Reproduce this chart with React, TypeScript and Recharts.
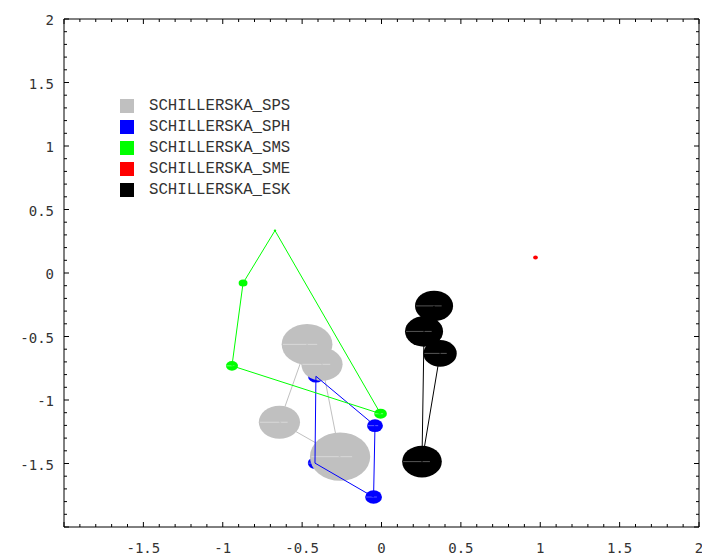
import React from "react";
import { ScatterChart, Scatter, XAxis, YAxis, Legend } from "recharts";

// values (data units, r = disk radius)
const spsX = [-0.469, -0.375, -0.643, -0.261];
const spsY = [-0.562, -0.719, -1.175, -1.446];
const spsR = [0.16, 0.13, 0.13, 0.19];

const sphX = [-0.413, -0.041, -0.05, -0.419];
const sphY = [-0.813, -1.202, -1.764, -1.497];
const sphR = [0.05, 0.05, 0.053, 0.045];

const smsX = [-0.671, -0.872, -0.942, -0.006];
const smsY = [0.334, -0.079, -0.731, -1.108];
const smsR = [0.008, 0.028, 0.038, 0.04];

const smeX = [0.97];
const smeY = [0.122];
const smeR = [0.015];

const eskX = [0.331, 0.268, 0.369, 0.255];
const eskY = [-0.259, -0.46, -0.633, -1.485];
const eskR = [0.12, 0.12, 0.105, 0.125];

// hull order (indices into the arrays above)
const spsHull = [0, 1, 3, 2, 0];
const sphHull = [0, 1, 2, 3, 0];
const smsHull = [0, 3, 2, 1, 0];
const eskHull = [0, 2, 3, 1, 0];

const labelTicks = [-1.5, -1, -0.5, 0, 0.5, 1, 1.5, 2];
const allTicks = Array.from({ length: 41 }, (_, i) => Math.round((-2 + i * 0.1) * 10) / 10);

const W = 702;
const H = 556;
const M = { left: 64, top: 19, right: 3, bottom: 29 };
const PX_X = (W - M.left - M.right) / 4;
const PX_Y = (H - M.top - M.bottom) / 4;

const toPts = (xs: number[], ys: number[], rs: number[]) =>
  xs.map((x, i) => ({ x, y: ys[i], r: rs[i] }));
const toHull = (xs: number[], ys: number[], order: number[]) =>
  order.map((i) => ({ x: xs[i], y: ys[i] }));

const series = [
  { name: "SCHILLERSKA_SPS", color: "#c0c0c0" },
  { name: "SCHILLERSKA_SPH", color: "#0000ff" },
  { name: "SCHILLERSKA_SMS", color: "#00ff00" },
  { name: "SCHILLERSKA_SME", color: "#ff0000" },
  { name: "SCHILLERSKA_ESK", color: "#000000" },
];

const isMajor = (v: number) => Math.abs(v * 2 - Math.round(v * 2)) < 1e-6;
const hasLabel = (v: number) => labelTicks.some((t) => Math.abs(t - v) < 1e-6);
const tickFont = { fontFamily: "DejaVu Sans Mono", fontSize: 14, fill: "#333" };

const BottomTick = (p: any) => {
  const v = p.payload.value;
  return (
    <g>
      <line x1={p.x} x2={p.x} y1={p.y} y2={p.y - (isMajor(v) ? 5 : 3)} stroke="#000" />
      {hasLabel(v) && (
        <text x={p.x} y={p.y + 26} textAnchor="middle" {...tickFont}>
          {String(v)}
        </text>
      )}
    </g>
  );
};
const TopTick = (p: any) => {
  const v = p.payload.value;
  return <line x1={p.x} x2={p.x} y1={p.y} y2={p.y + (isMajor(v) ? 5 : 3)} stroke="#000" />;
};
const LeftTick = (p: any) => {
  const v = p.payload.value;
  return (
    <g>
      <line x1={p.x} x2={p.x + (isMajor(v) ? 5 : 3)} y1={p.y} y2={p.y} stroke="#000" />
      {hasLabel(v) && (
        <text x={p.x - 10} y={p.y + 6} textAnchor="end" {...tickFont}>
          {String(v)}
        </text>
      )}
    </g>
  );
};
const RightTick = (p: any) => {
  const v = p.payload.value;
  return <line x1={p.x} x2={p.x - (isMajor(v) ? 5 : 3)} y1={p.y} y2={p.y} stroke="#000" />;
};

const disk = (color: string, seam: string) => (p: any) => {
  const rx = Math.max(p.payload.r * PX_X, 1);
  const ry = Math.max(p.payload.r * PX_Y, 1);
  return (
    <g>
      <ellipse cx={p.cx} cy={p.cy} rx={rx} ry={ry} fill={color} />
      {rx > 5 && (
        <line x1={p.cx - rx * 0.95} x2={p.cx + rx * 0.4} y1={p.cy} y2={p.cy} stroke={seam} strokeWidth={1} />
      )}
    </g>
  );
};
const noDot = () => <g />;

const LegendBox = () => (
  <div style={{ fontFamily: "Liberation Mono", fontSize: 15.7, color: "#333" }}>
    {series.map((s) => (
      <div key={s.name} style={{ display: "flex", alignItems: "center", height: 21 }}>
        <span style={{ width: 14, height: 14, background: s.color, marginRight: 15 }} />
        <span>{s.name}</span>
      </div>
    ))}
  </div>
);

export default function App() {
  const ax = { xAxisId: "b", yAxisId: "l", isAnimationActive: false, legendType: "none" as const };
  return (
    <div style={{ position: "absolute", left: 0, top: 0, width: W, height: H, background: "#fff" }}>
      <ScatterChart width={W} height={H} margin={{ top: 0, right: 0, bottom: 0, left: 0 }}>
        <XAxis xAxisId="b" type="number" dataKey="x" domain={[-2, 2]} ticks={allTicks} interval={0}
          height={M.bottom} tickSize={0} tickMargin={0} tick={BottomTick} axisLine={{ stroke: "#000" }} allowDataOverflow />
        <XAxis xAxisId="t" orientation="top" type="number" dataKey="x" domain={[-2, 2]} ticks={allTicks} interval={0}
          height={M.top} tickSize={0} tickMargin={0} tick={TopTick} axisLine={{ stroke: "#000" }} allowDataOverflow />
        <YAxis yAxisId="l" type="number" dataKey="y" domain={[-2, 2]} ticks={allTicks} interval={0}
          width={M.left} tickSize={0} tickMargin={0} tick={LeftTick} axisLine={{ stroke: "#000" }} allowDataOverflow />
        <YAxis yAxisId="r" orientation="right" type="number" dataKey="y" domain={[-2, 2]} ticks={allTicks} interval={0}
          width={M.right} tickSize={0} tickMargin={0} tick={RightTick} axisLine={{ stroke: "#000" }} allowDataOverflow />

        <Scatter {...ax} data={toPts(sphX, sphY, sphR)} shape={disk("#0000ff", "#5a5aff")} />
        <Scatter {...ax} data={toPts(spsX, spsY, spsR)} shape={disk("#c0c0c0", "#d8d8d8")} />
        <Scatter {...ax} data={toPts(smsX, smsY, smsR)} shape={disk("#00ff00", "#70ff70")} />
        <Scatter {...ax} data={toPts(smeX, smeY, smeR)} shape={disk("#ff0000", "#ff7070")} />
        <Scatter {...ax} data={toPts(eskX, eskY, eskR)} shape={disk("#000000", "#555555")} />

        <Scatter {...ax} data={toHull(spsX, spsY, spsHull)} line={{ stroke: "#c0c0c0", strokeWidth: 1 }} shape={noDot} />
        <Scatter {...ax} data={toHull(sphX, sphY, sphHull)} line={{ stroke: "#0000ff", strokeWidth: 1 }} shape={noDot} />
        <Scatter {...ax} data={toHull(smsX, smsY, smsHull)} line={{ stroke: "#00ff00", strokeWidth: 1 }} shape={noDot} />
        <Scatter {...ax} data={toHull(eskX, eskY, eskHull)} line={{ stroke: "#000000", strokeWidth: 1 }} shape={noDot} />

        <Legend layout="vertical" align="center" verticalAlign="middle" content={LegendBox}
          wrapperStyle={{ position: "absolute", left: 120, top: 95, width: "auto", height: "auto" }} />
      </ScatterChart>
    </div>
  );
}
